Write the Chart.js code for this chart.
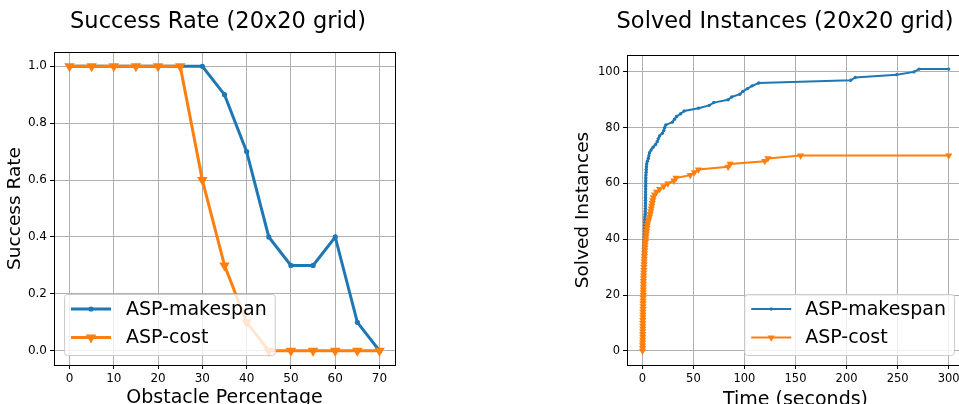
<!DOCTYPE html>
<html>
<head>
<meta charset="utf-8">
<script src="https://cdn.jsdelivr.net/npm/chart.js@4.4.1/dist/chart.umd.min.js"></script>
<style>
  html, body { margin: 0; padding: 0; background: #fff; overflow: hidden; width: 959px; height: 404px; }
  canvas { position: absolute; top: 0; }
  #rateChart { left: 0; }
  #solvedChart { left: 560px; }
</style>
</head>
<body>
<canvas id="rateChart" width="440" height="404"></canvas>
<canvas id="solvedChart" width="410" height="404"></canvas>
<script>
// ---------------- Data: success rate ----------------
const obstaclePct = [0, 5, 10, 15, 20, 25, 30, 35, 40, 45, 50, 55, 60, 65, 70];
const rateMakespan = [1.0, 1.0, 1.0, 1.0, 1.0, 1.0, 1.0, 0.9, 0.7, 0.4, 0.3, 0.3, 0.4, 0.1, 0.0];
const rateCost = [1.0, 1.0, 1.0, 1.0, 1.0, 1.0, 0.6, 0.3, 0.1, 0.0, 0.0, 0.0, 0.0, 0.0, 0.0];
const rateTicksX = [0, 10, 20, 30, 40, 50, 60, 70];
const rateTicksY = [0.0, 0.2, 0.4, 0.6, 0.8, 1.0];

// ---------------- Data: solved instances ----------------
const timeMakespan = [
  0.2, 0.3, 0.3, 0.4, 0.4, 0.5, 0.5, 0.5, 0.6, 0.6,
  0.6, 0.7, 0.7, 0.7, 0.8, 0.8, 0.8, 0.9, 0.9, 0.9,
  1.0, 1.0, 1.0, 1.1, 1.1, 1.1, 1.2, 1.2, 1.2, 1.3,
  1.3, 1.3, 1.4, 1.4, 1.5, 1.5, 1.6, 1.6, 1.7, 1.7,
  1.8, 1.9, 2.0, 2.1, 2.2, 2.3, 2.4, 2.5, 2.6, 2.7,
  2.8, 2.9, 3.0, 3.0, 3.1, 3.1, 3.2, 3.2, 3.3, 3.3,
  3.4, 3.4, 3.5, 3.6, 3.7, 3.8, 4.0, 4.3, 5.0, 5.8,
  6.4, 7.0, 8.6, 10.5, 13.0, 14.6, 15.6, 16.8, 19.6, 21.0,
  21.8, 23.0, 29.5, 31.5, 33.5, 37.5, 41.0, 55.0, 65.5, 70.0,
  84.0, 87.5, 95.5, 98.5, 103.0, 107.5, 114.0, 204.0, 208.5, 249.0,
  266.0, 271.0, 300.0
];
const solvedMakespan = [
  0, 1, 2, 3, 4, 5, 6, 7, 8, 9,
  10, 11, 12, 13, 14, 15, 16, 17, 18, 19,
  20, 21, 22, 23, 24, 25, 26, 27, 28, 29,
  30, 31, 32, 33, 34, 35, 36, 37, 38, 39,
  40, 41, 42, 43, 44, 45, 46, 47, 48, 49,
  50, 51, 52, 53, 54, 55, 56, 57, 58, 59,
  60, 61, 62, 63, 64, 65, 66, 67, 68, 69,
  70, 71, 72, 73, 74, 75, 76, 77, 78, 79,
  80, 81, 82, 83, 84, 85, 86, 87, 88, 89,
  90, 91, 92, 93, 94, 95, 96, 97, 98, 99,
  100, 101, 101
];
const timeCost = [
  0.2, 0.3, 0.3, 0.3, 0.4, 0.4, 0.4, 0.4, 0.5, 0.5,
  0.5, 0.5, 0.6, 0.6, 0.6, 0.7, 0.7, 0.7, 0.8, 0.8,
  0.9, 0.9, 1.0, 1.0, 1.1, 1.1, 1.2, 1.3, 1.4, 1.5,
  1.6, 1.7, 1.8, 1.9, 2.0, 2.2, 2.4, 2.6, 2.8, 3.0,
  3.3, 3.6, 3.9, 4.2, 4.5, 4.9, 5.4, 6.2, 7.0, 7.6,
  8.2, 8.7, 9.2, 9.7, 10.2, 10.8, 12.0, 14.0, 17.0, 21.0,
  25.0, 31.0, 33.0, 47.0, 51.0, 55.0, 84.0, 86.0, 120.0, 123.0,
  155.0, 300.0
];
const solvedCost = [
  0, 1, 2, 3, 4, 5, 6, 7, 8, 9,
  10, 11, 12, 13, 14, 15, 16, 17, 18, 19,
  20, 21, 22, 23, 24, 25, 26, 27, 28, 29,
  30, 31, 32, 33, 34, 35, 36, 37, 38, 39,
  40, 41, 42, 43, 44, 45, 46, 47, 48, 49,
  50, 51, 52, 53, 54, 55, 56, 57, 58, 59,
  60, 61, 62, 63, 64, 65, 66, 67, 68, 69,
  70, 70
];
const solvedTicksX = [0, 50, 100, 150, 200, 250, 300];
const solvedTicksY = [0, 20, 40, 60, 80, 100];

const BLUE = "#1f77b4";
const ORANGE = "#ff7f0e";
const FONT = "DejaVu Sans";

Chart.defaults.font.family = FONT;
Chart.defaults.color = "#000";

// ---------------- Helpers ----------------
function toPoints(xs, ys) {
  return xs.map((x, i) => ({ x: x, y: ys[i] }));
}

function drawMarker(ctx, style, x, y, r, color) {
  ctx.fillStyle = color;
  ctx.beginPath();
  if (style === "circle") {
    ctx.arc(x, y, r, 0, Math.PI * 2);
  } else {
    // downward triangle
    ctx.moveTo(x - r * 0.87, y - r * 0.5);
    ctx.lineTo(x + r * 0.87, y - r * 0.5);
    ctx.lineTo(x, y + r);
    ctx.closePath();
  }
  ctx.fill();
}

// ---------------- Plugins ----------------
// axes frame on all four sides (matplotlib spines)
const frame = {
  id: "frame",
  afterDraw(chart) {
    const a = chart.chartArea, ctx = chart.ctx;
    ctx.save();
    ctx.strokeStyle = "#000";
    ctx.lineWidth = 1;
    ctx.strokeRect(Math.round(a.left) + 0.5, Math.round(a.top) + 0.5,
      Math.round(a.right - a.left), Math.round(a.bottom - a.top));
    ctx.restore();
  }
};

// figure-style title above the axes
const figTitle = {
  id: "figTitle",
  afterDraw(chart, args, opts) {
    const ctx = chart.ctx;
    ctx.save();
    ctx.font = opts.size + "px '" + FONT + "'";
    ctx.fillStyle = "#000";
    ctx.textAlign = "center";
    ctx.textBaseline = "alphabetic";
    ctx.fillText(opts.text, opts.x, opts.y);
    ctx.restore();
  }
};

// legend box drawn inside the plot area
const boxLegend = {
  id: "boxLegend",
  afterDatasetsDraw(chart, args, opts) {
    const ctx = chart.ctx, a = chart.chartArea;
    const sets = opts.items;
    ctx.save();
    ctx.font = opts.fontSize + "px '" + FONT + "'";
    const textW = Math.max(...sets.map(s => ctx.measureText(s.label).width));
    const w = 7 + 40 + opts.gap + textW + 8;
    const h = 61;
    const x = opts.side === "left" ? a.left + 10 : a.right - 10 - w;
    const y = a.bottom - 10 - h;

    ctx.beginPath();
    ctx.roundRect(x + 0.5, y + 0.5, w, h, 3);
    ctx.fillStyle = "rgba(255,255,255,0.8)";
    ctx.fill();
    ctx.strokeStyle = "#cccccc";
    ctx.lineWidth = 1;
    ctx.stroke();

    sets.forEach((s, i) => {
      const ry = y + 15 + i * 28.5;
      ctx.strokeStyle = s.color;
      ctx.lineWidth = s.width;
      ctx.beginPath();
      ctx.moveTo(x + 7, ry);
      ctx.lineTo(x + 47, ry);
      ctx.stroke();
      drawMarker(ctx, s.marker, x + 27, ry, s.size, s.color);
      ctx.fillStyle = "#000";
      ctx.textAlign = "left";
      ctx.textBaseline = "middle";
      ctx.fillText(s.label, x + 47 + opts.gap, ry + 1);
    });
    ctx.restore();
  }
};

function axisOptions(min, max, ticks, fmt, fitSize, isY, title, titlePad, tickSize) {
  return {
    type: "linear",
    min: min,
    max: max,
    afterBuildTicks: s => { s.ticks = ticks.map(v => ({ value: v })); },
    afterFit: s => {
      if (isY) s.width = fitSize; else s.height = fitSize;
    },
    ticks: {
      autoSkip: false,
      maxRotation: 0,
      padding: 3,
      font: { size: tickSize },
      color: "#000",
      callback: fmt
    },
    grid: {
      color: "#b0b0b0",
      lineWidth: 1,
      drawTicks: true,
      tickLength: 4,
      tickColor: "#000"
    },
    border: { display: false },
    title: {
      display: true,
      text: title,
      font: { size: isY ? 18.5 : 19 },
      color: "#000",
      padding: titlePad
    }
  };
}

// ---------------- Success Rate chart ----------------
new Chart(document.getElementById("rateChart"), {
  type: "line",
  data: {
    datasets: [
      {
        label: "ASP-makespan",
        data: toPoints(obstaclePct, rateMakespan),
        borderColor: BLUE,
        backgroundColor: BLUE,
        borderWidth: 3,
        pointStyle: "circle",
        pointRadius: 2.6,
        pointBorderWidth: 0,
        tension: 0,
        order: 1
      },
      {
        label: "ASP-cost",
        data: toPoints(obstaclePct, rateCost),
        borderColor: ORANGE,
        backgroundColor: ORANGE,
        borderWidth: 3,
        pointStyle: "triangle",
        rotation: 180,
        pointRadius: 6,
        pointBorderWidth: 0,
        tension: 0,
        order: 0
      }
    ]
  },
  options: {
    responsive: false,
    animation: false,
    devicePixelRatio: 1,
    layout: { padding: { top: 52, right: 45, bottom: 0, left: 0 } },
    scales: {
      x: axisOptions(-3.5, 73.5, rateTicksX, v => String(v), 39, false,
        "Obstacle Percentage", { top: 0, bottom: -5 }, 12),
      y: axisOptions(-0.05, 1.05, rateTicksY, v => v.toFixed(1), 54, true,
        "Success Rate", { top: 4, bottom: 0 }, 12)
    },
    plugins: {
      legend: { display: false },
      tooltip: { enabled: false },
      figTitle: { text: "Success Rate (20x20 grid)", x: 218, y: 28, size: 22.5 },
      boxLegend: {
        side: "left",
        fontSize: 19,
        gap: 15,
        items: [
          { label: "ASP-makespan", color: BLUE, width: 3, marker: "circle", size: 2.6 },
          { label: "ASP-cost", color: ORANGE, width: 3, marker: "triangle", size: 6 }
        ]
      }
    }
  },
  plugins: [frame, figTitle, boxLegend]
});

// ---------------- Solved Instances chart ----------------
new Chart(document.getElementById("solvedChart"), {
  type: "line",
  data: {
    datasets: [
      {
        label: "ASP-makespan",
        data: toPoints(timeMakespan, solvedMakespan),
        borderColor: BLUE,
        backgroundColor: BLUE,
        borderWidth: 2,
        pointStyle: "circle",
        pointRadius: 1.7,
        pointBorderWidth: 0,
        tension: 0,
        order: 1
      },
      {
        label: "ASP-cost",
        data: toPoints(timeCost, solvedCost),
        borderColor: ORANGE,
        backgroundColor: ORANGE,
        borderWidth: 2,
        pointStyle: "triangle",
        rotation: 180,
        pointRadius: 4.2,
        pointBorderWidth: 0,
        tension: 0,
        order: 0
      }
    ]
  },
  options: {
    responsive: false,
    animation: false,
    devicePixelRatio: 1,
    layout: { padding: { top: 55, right: 6, bottom: 0, left: 0 } },
    scales: {
      x: axisOptions(-15, 315, solvedTicksX, v => String(v), 39, false,
        "Time (seconds)", { top: 0, bottom: -7 }, 11.5),
      y: axisOptions(-5.05, 106.05, solvedTicksY, v => String(v), 67, true,
        "Solved Instances", { top: 12, bottom: 0 }, 11.5)
    },
    plugins: {
      legend: { display: false },
      tooltip: { enabled: false },
      figTitle: { text: "Solved Instances (20x20 grid)", x: 225, y: 28, size: 22.5 },
      boxLegend: {
        side: "right",
        fontSize: 19,
        gap: 14,
        items: [
          { label: "ASP-makespan", color: BLUE, width: 2, marker: "circle", size: 1.7 },
          { label: "ASP-cost", color: ORANGE, width: 2, marker: "triangle", size: 4.2 }
        ]
      }
    }
  },
  plugins: [frame, figTitle, boxLegend]
});
</script>
</body>
</html>
